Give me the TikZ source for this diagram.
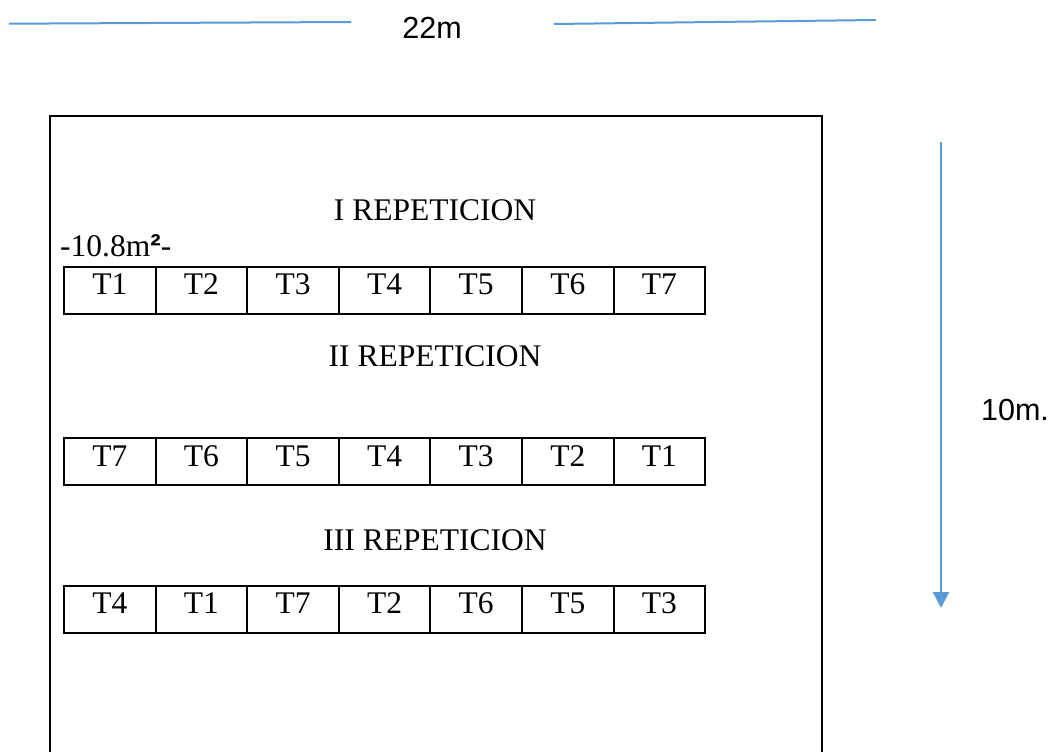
\documentclass[tikz,border=0pt]{standalone}
\usepackage{fontspec}
\setmainfont{Liberation Serif}
\newfontfamily\arialfont{Liberation Sans}
\usetikzlibrary{arrows.meta}
\definecolor{dimblue}{RGB}{91,155,213}
\tikzset{
  cell/.style={draw=black, line width=2pt, minimum width=91.6pt, minimum height=47.3pt,
    inner sep=0pt, text height=21pt, text depth=11.7pt,
    font=\fontsize{31.5}{36}\selectfont},
  heading/.style={anchor=base, inner sep=0pt, font=\fontsize{31.5}{36}\selectfont},
  dimtext/.style={anchor=base, inner sep=0pt, font=\arialfont\fontsize{30.5}{34}\selectfont},
  dimline/.style={draw=dimblue, line width=2pt},
  frame/.style={draw=black, line width=2pt}
}
\begin{document}
\begin{tikzpicture}[x=1pt,y=-1pt]
\useasboundingbox (0,0) rectangle (1053,752);
\clip (0,0) rectangle (1053,752);
% dimension 22m
\coordinate (l1) at (9,23.7);
\coordinate (l2) at (351,22);
\coordinate (r1) at (554,24);
\coordinate (r2) at (876,20);
\draw[dimline] (l1) -- (l2);
\draw[dimline] (r1) -- (r2);
\node[dimtext] (w) at (432,39) {22m};
% frame
\draw[frame] (50,800) -- (50,116) -- (822,116) -- (822,800);
% headings
\node[heading] (h1) at (435,220) {I REPETICION};
\node[heading] (h2) at (435,366) {II REPETICION};
\node[heading] (h3) at (435,550) {III REPETICION};
\node[heading, anchor=base west] (area) at (60,256.7) {-10.8m{\arialfont\bfseries ²}-};
% rows
\foreach \t [count=\i from 0] in {T1,T2,T3,T4,T5,T6,T7}
  \node[cell] (a\i) at ({64+91.6*(\i+0.5)},290.3) {\t};
\foreach \t [count=\i from 0] in {T7,T6,T5,T4,T3,T2,T1}
  \node[cell] (b\i) at ({64+91.6*(\i+0.5)},461.7) {\t};
\foreach \t [count=\i from 0] in {T4,T1,T7,T2,T6,T5,T3}
  \node[cell] (c\i) at ({64+91.6*(\i+0.5)},609.2) {\t};
% dimension 10m
\coordinate (vt) at (941,142);
\coordinate (vb) at (941,608);
\draw[dimline, line width=2.7pt, -{Triangle[length=16pt,width=16pt]}] (vt) -- (vb);
\node[dimtext] (hgt) at (1015,420) {10m.};
\end{tikzpicture}
\end{document}
